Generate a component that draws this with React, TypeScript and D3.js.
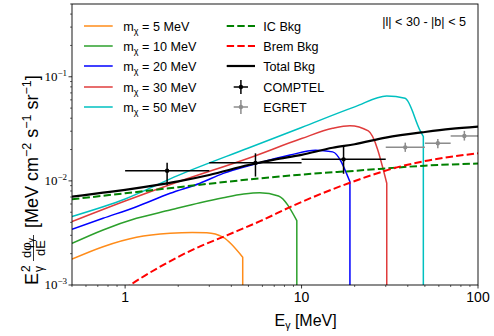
import React from 'react';
import * as d3 from 'd3';

const W = 494;
const H = 336;
const margin = { left: 72, right: 16, top: 4, bottom: 51 };
const pw = W - margin.left - margin.right;
const ph = H - margin.top - margin.bottom;

// dark matter spectra, [E (MeV), E^2 dphi/dE]
const dm5 = [[0.5, 1.77e-3], [0.75, 2.33e-3], [1.16, 2.87e-3], [1.8, 3.14e-3], [2.4, 3.2e-3], [2.9, 3.18e-3], [3.6, 2.87e-3], [4.64, 1.85e-3], [4.64, 1e-4]];
const dm10 = [[0.5, 2.51e-3], [0.75, 3.38e-3], [1.16, 4.37e-3], [1.8, 5.25e-3], [2.66, 6.18e-3], [3.6, 6.9e-3], [4.7, 7.48e-3], [5.8, 7.7e-3], [7.4, 7.16e-3], [9.4, 4.15e-3], [9.4, 1e-4]];
const dm20 = [[0.5, 3.43e-3], [0.75, 4.37e-3], [1.16, 5.65e-3], [1.8, 7.6e-3], [2.66, 9.5e-3], [3.6, 0.0118], [5.6, 0.0147], [8.6, 0.0177], [12, 0.0197], [15, 0.019], [18.8, 9.8e-3], [18.8, 1e-4]];
const dm30 = [[0.5, 4.06e-3], [1, 6.4e-3], [2, 9.8e-3], [5, 0.0165], [10, 0.0255], [15, 0.032], [18.8, 0.0339], [23.9, 0.0302], [30.4, 9.5e-3], [30.4, 1e-4]];
const dm50 = [[0.5, 4.55e-3], [1, 6.7e-3], [2, 0.0113], [5, 0.0207], [10, 0.0326], [20, 0.0514], [30.4, 0.0654], [38.6, 0.0621], [47, 0.0304], [49, 0.0267], [49, 1e-4]];

// backgrounds
const icBkg = [[0.5, 6.65e-3], [0.75, 7.2e-3], [1, 7.6e-3], [2, 8.7e-3], [3, 9.4e-3], [5, 0.0103], [10, 0.0115], [20, 0.0125], [50, 0.014], [100, 0.0147]];
const bremBkg = [[0.5, 4e-4], [0.75, 6.4e-4], [1.07, 1e-3], [1.58, 1.5e-3], [2.44, 2.2e-3], [3.77, 3.0e-3], [5.82, 4.1e-3], [9, 5.8e-3], [18.8, 9.6e-3], [36, 0.0137], [50, 0.0155], [100, 0.0184]];
const totalBkg = [[0.5, 7.05e-3], [0.75, 7.7e-3], [1, 8.2e-3], [1.5, 9.1e-3], [2, 9.9e-3], [3, 0.0114], [5, 0.0142], [7, 0.016], [10, 0.0178], [15, 0.0208], [20, 0.0225], [30, 0.026], [50, 0.0295], [70, 0.0316], [100, 0.0332]];

// data points: [E, value, Elo, Ehi, vlo, vhi]
const comptel = [[1.73, 0.0125, 1, 3, 9.1e-3, 0.0149], [5.48, 0.0149, 3, 10, 0.011, 0.0184], [17.3, 0.0161, 10, 30, 0.0117, 0.0216]];
const egret = [[38.7, 0.021, 30, 50, 0.019, 0.0233], [59.2, 0.023, 50, 70, 0.0206, 0.0253], [83.7, 0.027, 70, 100, 0.0244, 0.0302]];

const xTicks = [1, 10, 100];
const yTicks = [1e-3, 1e-2, 1e-1];
const yExp = ['−3', '−2', '−1'];

const dmSeries = [
  { label: '5', data: dm5, color: '#ff8c1a' },
  { label: '10', data: dm10, color: '#2ca02c' },
  { label: '20', data: dm20, color: '#0000ff' },
  { label: '30', data: dm30, color: '#e03c3c' },
  { label: '50', data: dm50, color: '#00c0c0' },
];

const x = d3.scaleLog().domain([0.5, 100]).range([0, pw]);
const y = d3.scaleLog().domain([1e-3, 0.5]).range([ph, 0]);

const smooth = d3.line<number[]>().x(d => x(d[0])).y(d => y(d[1])).curve(d3.curveMonotoneX);

// smooth rising part, then straight drop at the mass
const dmPath = (pts: number[][]) => {
  const head = smooth(pts.slice(0, -1)) || '';
  const last = pts[pts.length - 1];
  return `${head}L${x(last[0])},${y(last[1])}`;
};

const font = 'Liberation Sans, Arial, sans-serif';

const xMinor: number[] = [];
[0.1, 1, 10].forEach(dec => { for (let k = 2; k <= 9; k++) { const v = k * dec; if (v > 0.5 && v < 100) xMinor.push(v); } });
xMinor.unshift(0.5);
const yMinor: number[] = [];
[1e-3, 1e-2, 1e-1].forEach(dec => { for (let k = 2; k <= 9; k++) { const v = k * dec; if (v <= 0.5) yMinor.push(v); } });

const ErrPoint = ({ d, color }: { d: number[]; color: string }) => (
  <g stroke={color} strokeWidth={1.5}>
    <line x1={x(d[2])} x2={x(d[3])} y1={y(d[1])} y2={y(d[1])} />
    <line x1={x(d[0])} x2={x(d[0])} y1={y(d[4])} y2={y(d[5])} />
    <circle cx={x(d[0])} cy={y(d[1])} r={2.2} fill={color} stroke="none" />
  </g>
);

export default function App() {
  const rowY = [22, 42, 62, 83, 103];
  return (
    <svg width={W} height={H} style={{ display: 'block', position: 'absolute', left: 0, top: 0, background: '#fff' }} fontFamily={font}>
      <defs>
        <clipPath id="plotClip">
          <rect x={0} y={0} width={pw} height={ph} />
        </clipPath>
      </defs>
      <g transform={`translate(${margin.left},${margin.top})`}>
        <g clipPath="url(#plotClip)" fill="none" strokeLinejoin="round">
          {dmSeries.map(s => (
            <path key={s.label} d={dmPath(s.data)} stroke={s.color} strokeWidth={1.5} />
          ))}
          <path d={smooth(icBkg) || ''} stroke="#008000" strokeWidth={2} strokeDasharray="7.4,3.2" />
          <path d={smooth(bremBkg) || ''} stroke="#ff0000" strokeWidth={2} strokeDasharray="7.4,3.2" />
          <path d={smooth(totalBkg) || ''} stroke="#000" strokeWidth={2.2} />
          {comptel.map((d, i) => <ErrPoint key={'c' + i} d={d} color="#000" />)}
          {egret.map((d, i) => <ErrPoint key={'e' + i} d={d} color="#8c8c8c" />)}
        </g>

        {/* frame */}
        <rect x={0} y={0} width={pw} height={ph} fill="none" stroke="#000" strokeWidth={0.9} />

        {/* x ticks */}
        {xTicks.map(t => (
          <g key={t} transform={`translate(${x(t)},${ph})`}>
            <line y2={3.5} stroke="#000" strokeWidth={0.8} />
            <text y={17} textAnchor="middle" fontSize={14} fill="#000">{t}</text>
          </g>
        ))}
        {xMinor.map(t => (
          <line key={'xm' + t} x1={x(t)} x2={x(t)} y1={ph} y2={ph + 2} stroke="#000" strokeWidth={0.6} />
        ))}

        {/* y ticks */}
        {yTicks.map((t, i) => (
          <g key={t} transform={`translate(0,${y(t)})`}>
            <line x2={-3.5} stroke="#000" strokeWidth={0.8} />
            <text x={-5} y={4} textAnchor="end" fontFamily="Liberation Serif, serif" fontSize={13} fill="#000">
              10<tspan dy={-5} fontSize={9}>{yExp[i]}</tspan>
            </text>
          </g>
        ))}
        {yMinor.map(t => (
          <line key={'ym' + t} x1={0} x2={-2} y1={y(t)} y2={y(t)} stroke="#000" strokeWidth={0.6} />
        ))}

        {/* legend, left column */}
        {dmSeries.map((s, i) => (
          <g key={'lg' + s.label} transform={`translate(12,${rowY[i]})`}>
            <line x1={0} x2={28.7} stroke={s.color} strokeWidth={1.5} />
            <text x={39.3} y={4.5} fontSize={12.6} fill="#000">
              m<tspan dy={3} fontSize={9}>χ</tspan><tspan dy={-3}> = {s.label} MeV</tspan>
            </text>
          </g>
        ))}

        {/* legend, right column */}
        <g transform={`translate(154.7,0)`} fontSize={12.6}>
          <line x1={0} x2={28.3} y1={rowY[0]} y2={rowY[0]} stroke="#008000" strokeWidth={2} strokeDasharray="7.4,3.2" />
          <text x={36.6} y={rowY[0] + 4.5}>IC Bkg</text>
          <line x1={0} x2={28.3} y1={rowY[1]} y2={rowY[1]} stroke="#ff0000" strokeWidth={2} strokeDasharray="7.4,3.2" />
          <text x={36.6} y={rowY[1] + 4.5}>Brem Bkg</text>
          <line x1={0} x2={28.3} y1={rowY[2]} y2={rowY[2]} stroke="#000" strokeWidth={2.2} />
          <text x={36.6} y={rowY[2] + 4.5}>Total Bkg</text>
          <g stroke="#000" strokeWidth={1.5}>
            <line x1={7} x2={21.3} y1={rowY[3]} y2={rowY[3]} />
            <line x1={14.2} x2={14.2} y1={rowY[3] - 7} y2={rowY[3] + 7} />
            <circle cx={14.2} cy={rowY[3]} r={2.2} fill="#000" stroke="none" />
          </g>
          <text x={36.6} y={rowY[3] + 4.5}>COMPTEL</text>
          <g stroke="#8c8c8c" strokeWidth={1.5}>
            <line x1={7} x2={21.3} y1={rowY[4]} y2={rowY[4]} />
            <line x1={14.2} x2={14.2} y1={rowY[4] - 7} y2={rowY[4] + 7} />
            <circle cx={14.2} cy={rowY[4]} r={2.2} fill="#8c8c8c" stroke="none" />
          </g>
          <text x={36.6} y={rowY[4] + 4.5}>EGRET</text>
        </g>

        {/* region note */}
        <text x={pw - 12} y={22} textAnchor="end" fontSize={12.6}>|l| &lt; 30 - |b| &lt; 5</text>

        {/* x label */}
        <text x={x(10) - 27} y={ph + 41} fontSize={16}>
          E<tspan dy={3} fontSize={10.5}>γ</tspan><tspan dy={-3}> [MeV]</tspan>
        </text>
      </g>

      {/* y label, rotated */}
      <g transform="translate(38,160) rotate(-90)" fontSize={18}>
        <text x={-125}>E</text>
        <text x={-112} y={-8} fontSize={12}>2</text>
        <text x={-112} y={4.5} fontSize={12}>γ</text>
        <text x={-88} y={-7} fontSize={13} textAnchor="middle">dφ<tspan dy={2.5} fontSize={9}>γ</tspan></text>
        <line x1={-101} x2={-75} y1={-4.5} y2={-4.5} stroke="#000" strokeWidth={0.8} />
        <text x={-88} y={7} fontSize={13} textAnchor="middle">dE</text>
        <text x={-68}>
          [MeV cm<tspan dy={-7} fontSize={12.5}>−2</tspan><tspan dy={7}> s</tspan><tspan dy={-7} fontSize={12.5}>−1</tspan><tspan dy={7}> sr</tspan><tspan dy={-7} fontSize={12.5}>−1</tspan><tspan dy={7}>]</tspan>
        </text>
      </g>
    </svg>
  );
}
